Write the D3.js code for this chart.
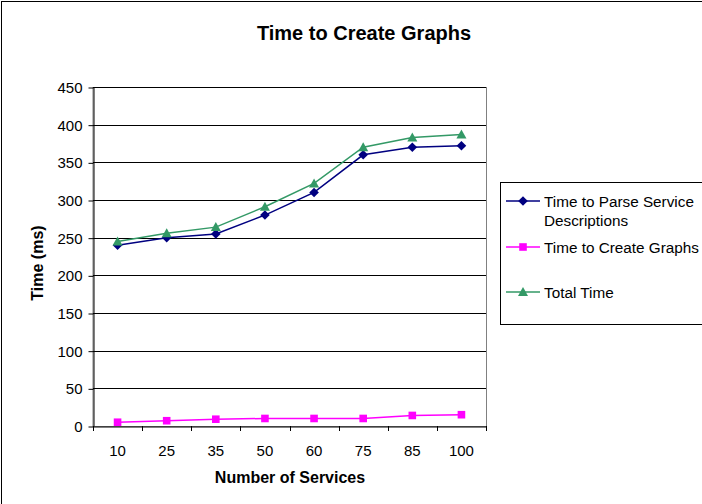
<!DOCTYPE html>
<html><head><meta charset="utf-8">
<script src="https://cdn.jsdelivr.net/npm/d3@7"></script>
<style>body{margin:0;background:#fff}svg{display:block;font-family:Arial,"Liberation Sans",sans-serif}</style>
</head><body>
<svg id="c" width="702" height="504"></svg>
<script>
const categories = ["10","25","35","50","60","75","85","100"];
const parseTime = [240,250,255,280,310,360,370,372];
const graphTime = [5,7,9,10,10,10,14,15];
const totalTime = [245,256,264,291,322,370,383,387];
const yTicks = [0,50,100,150,200,250,300,350,400,450];
const seriesNames = ["Time to Parse Service Descriptions","Time to Create Graphs","Total Time"];

const svg = d3.select("#c");
const L=93,R=486,T=87,B=426;
const x = d3.scaleBand().domain(categories).range([L,R]);
const y = d3.scaleLinear().domain([0,450]).range([B,T]);
const FF = "Arial,'Liberation Sans',sans-serif";

svg.append("rect").attr("x",1.5).attr("y",1.5).attr("width",720).attr("height",520).attr("fill","#fff").attr("stroke","#000").attr("stroke-width",1);

svg.append("text").attr("x",364).attr("y",40).attr("text-anchor","middle").attr("font-size",20).attr("font-weight","bold").text("Time to Create Graphs");

svg.append("rect").attr("x",L).attr("y",T+0.5).attr("width",R-L+0.5).attr("height",B-T).attr("fill","none").attr("stroke","#808080");

svg.append("g").selectAll("line").data(yTicks.filter(d=>d>0)).join("line")
  .attr("x1",L).attr("x2",R).attr("y1",d=>Math.round(y(d))+0.5).attr("y2",d=>Math.round(y(d))+0.5).attr("stroke","#000");

const ya = svg.append("g").attr("transform",`translate(${L+0.5},0)`).call(d3.axisLeft(y).tickValues(yTicks).tickSize(5).tickSizeOuter(0).tickPadding(6));
ya.select(".domain").attr("stroke","#000");
ya.selectAll("text").attr("font-size",15).attr("fill","#000").attr("font-family",FF).attr("dy","0.36em");
ya.selectAll("line").attr("transform","translate(0,0.5)");

const xa = svg.append("g").attr("transform",`translate(0,${B+0.5})`).call(d3.axisBottom(x).tickSize(0).tickSizeOuter(0));
xa.select(".domain").attr("stroke","#000");
xa.selectAll("text").attr("font-size",15).attr("fill","#000").attr("font-family",FF).attr("y",29).attr("dy",0);
const bounds = categories.map(c=>x(c)).concat([R]);
svg.append("g").selectAll("line").data(bounds).join("line")
  .attr("x1",d=>Math.round(d)+0.5).attr("x2",d=>Math.round(d)+0.5).attr("y1",B).attr("y2",B+5).attr("stroke","#000");

svg.append("text").attr("transform","translate(43,263) rotate(-90)").attr("text-anchor","middle").attr("font-size",16).attr("font-weight","bold").text("Time (ms)");
svg.append("text").attr("x",290).attr("y",483).attr("text-anchor","middle").attr("font-size",16).attr("font-weight","bold").text("Number of Services");

const cx = c=>x(c)+x.bandwidth()/2;
const diamond = "M0,-4.8L4.8,0L0,4.8L-4.8,0Z";
const square = "M-3.8,-3.8H3.8V3.8H-3.8Z";
const tri = "M0,-5L5,4H-5Z";
const series = [
  {vals:parseTime,color:"#000080",shape:diamond},
  {vals:graphTime,color:"#FF00FF",shape:square},
  {vals:totalTime,color:"#339966",shape:tri}
];
const line = d3.line().x((d,i)=>cx(categories[i])).y(d=>y(d));
series.forEach(s=>{
  svg.append("path").attr("d",line(s.vals)).attr("fill","none").attr("stroke",s.color).attr("stroke-width",1.5);
  svg.append("g").selectAll("path").data(s.vals).join("path")
    .attr("transform",(d,i)=>`translate(${cx(categories[i])},${y(d)})`)
    .attr("d",s.shape).attr("fill",s.color);
});

svg.append("rect").attr("x",500.5).attr("y",182.5).attr("width",240).attr("height",142).attr("fill","#fff").attr("stroke","#000");
const legY=[201,247,292];
series.forEach((s,i)=>{
  const g=svg.append("g");
  g.append("line").attr("x1",506).attr("x2",540).attr("y1",legY[i]).attr("y2",legY[i]).attr("stroke",s.color).attr("stroke-width",1.5);
  g.append("path").attr("transform",`translate(523,${legY[i]})`).attr("d",s.shape).attr("fill",s.color);
});
const lt = svg.append("g").attr("font-size",15.3).attr("fill","#000");
lt.append("text").attr("x",544).attr("y",207).text("Time to Parse Service");
lt.append("text").attr("x",544).attr("y",226).text("Descriptions");
lt.append("text").attr("x",544).attr("y",253).text(seriesNames[1]);
lt.append("text").attr("x",544).attr("y",298).text(seriesNames[2]);
</script>
</body></html>
